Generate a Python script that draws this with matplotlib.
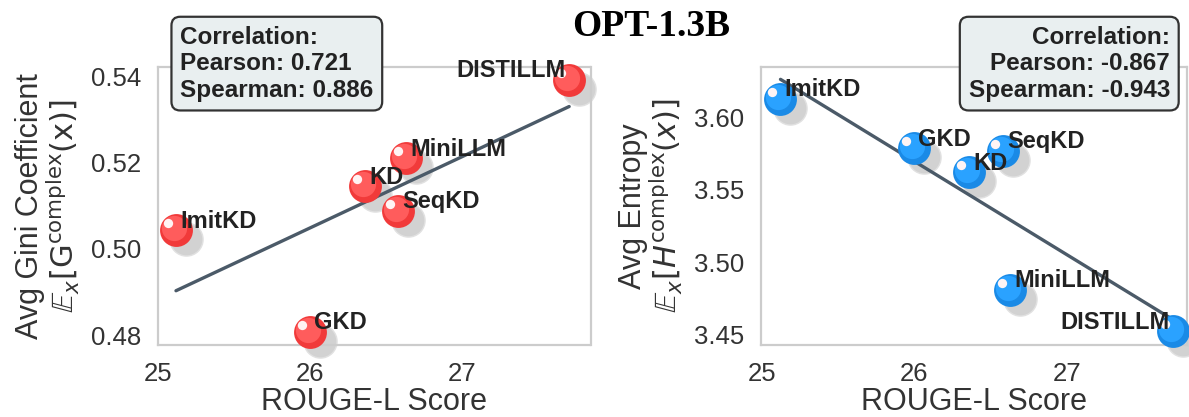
import numpy as np
import matplotlib
matplotlib.use("Agg")
import matplotlib.pyplot as plt
from matplotlib import transforms

plt.rcParams['font.family'] = ['Liberation Sans', 'DejaVu Sans']
plt.rcParams['mathtext.fontset'] = 'dejavusans'

# ROUGE-L scores per distillation method (shared by both panels)
methods = ['ImitKD', 'GKD', 'KD', 'SeqKD', 'MiniLLM', 'DISTILLM']
rouge_l = [25.12, 26.00, 26.36, 26.58, 26.63, 27.70]
gini = [0.5043, 0.4808, 0.5145, 0.5089, 0.5211, 0.5393]
entropy = [3.6127, 3.5787, 3.5619, 3.5769, 3.4810, 3.4523]

gini_corr = ('Correlation:', 'Pearson: 0.721', 'Spearman: 0.886')
entropy_corr = ('Correlation:', 'Pearson: -0.867', 'Spearman: -0.943')

gini_ticks = [0.48, 0.50, 0.52, 0.54]
entropy_ticks = [3.45, 3.50, 3.55, 3.60]
x_ticks = [25, 26, 27]

fig = plt.figure(figsize=(11.89, 4.17), dpi=100)
ax1 = fig.add_axes([157.7 / 1189, 72 / 417, 432.8 / 1189, 278.3 / 417])
ax2 = fig.add_axes([760.7 / 1189, 72 / 417, 426.3 / 1189, 278.3 / 417])


def shifted(ax, dx, dy):
    return transforms.offset_copy(ax.transData, fig=fig, x=dx, y=dy, units='dots')


def spheres(ax, x, y, dark, mid):
    # soft drop shadow, then the ball, a lighter core and a specular spot
    ax.scatter(x, y, s=620, c='#dadada', lw=0, zorder=2, alpha=0.8,
               transform=shifted(ax, 10, -9), clip_on=False)
    ax.scatter(x, y, s=520, c='#d2d2d2', lw=0, zorder=2,
               transform=shifted(ax, 10, -9), clip_on=False)
    ax.scatter(x, y, s=560, c=dark, lw=0, zorder=4, clip_on=False)
    ax.scatter(x, y, s=330, c=mid, lw=0, zorder=5,
               transform=shifted(ax, -2, 2), clip_on=False)
    ax.scatter(x, y, s=45, c='#fff4f4', lw=0, zorder=6,
               transform=shifted(ax, -8, 7), clip_on=False)


def panel(ax, y, ylabel, ticks, ylim, xlim, dark, mid, corr, left_box):
    x = np.array(rouge_l)
    y = np.array(y)
    k, b = np.polyfit(x, y, 1)
    xs = np.array([x.min(), x.max()])
    ax.plot(xs, k * xs + b, color='#4b5a68', lw=2.4, zorder=3,
            solid_capstyle='round')
    spheres(ax, x, y, dark, mid)
    for name, xv, yv in zip(methods, x, y):
        right = name == 'DISTILLM'
        ax.annotate(name, (xv, yv), xytext=(-4 if right else 4, 9),
                    textcoords='offset pixels', ha='right' if right else 'left',
                    va='center', fontsize=17, fontweight='bold', color='#222222',
                    zorder=7)
    ax.set_xlim(*xlim)
    ax.set_ylim(*ylim)
    ax.set_xticks(x_ticks)
    ax.set_yticks(ticks)
    ax.set_yticklabels([f'{t:.2f}' for t in ticks])
    ax.tick_params(length=0, pad=12, labelsize=18.5, colors='#333333')
    for sp in ax.spines.values():
        sp.set_color('#cccccc')
        sp.set_linewidth(1.6)
    ax.set_xlabel('ROUGE-L Score', fontsize=22, color='#333333', labelpad=1)
    ax.set_ylabel(ylabel, fontsize=22, color='#333333', labelpad=6,
                  linespacing=1.0)
    box = dict(boxstyle='round,pad=0.36', fc='#e9eff0', ec='#333333', lw=1.6)
    if left_box:
        ax.text(0.052, 1.148, '\n'.join(corr), transform=ax.transAxes, ha='left',
                va='top', fontsize=17.5, fontweight='bold', color='#222222',
                linespacing=1.2, bbox=box, zorder=8, multialignment='left')
    else:
        ax.text(0.960, 1.148, '\n'.join(corr), transform=ax.transAxes, ha='right',
                va='top', fontsize=17.5, fontweight='bold', color='#222222',
                linespacing=1.2, bbox=box, zorder=8, multialignment='right')


panel(ax1, gini,
      'Avg Gini Coefficient\n' + r'$\mathbb{E}_x[\mathrm{G}^{\mathrm{complex}}(\mathrm{x})]$',
      gini_ticks, (0.4777, 0.5423), (25.0, 27.84), '#f13a3a', '#ff5c5c',
      gini_corr, True)
panel(ax2, entropy,
      'Avg Entropy\n' + r'$\mathbb{E}_x[H^{\mathrm{complex}}(x)]$',
      entropy_ticks, (3.4427, 3.635), (24.99, 27.79), '#1a8ae6', '#2aa2ff',
      entropy_corr, False)

fig.text(651 / 1189, 1 - 26 / 417, 'OPT-1.3B', ha='center', va='center',
         fontsize=27, fontweight='bold', family='Liberation Serif')

fig.savefig('out.png', dpi=100)
